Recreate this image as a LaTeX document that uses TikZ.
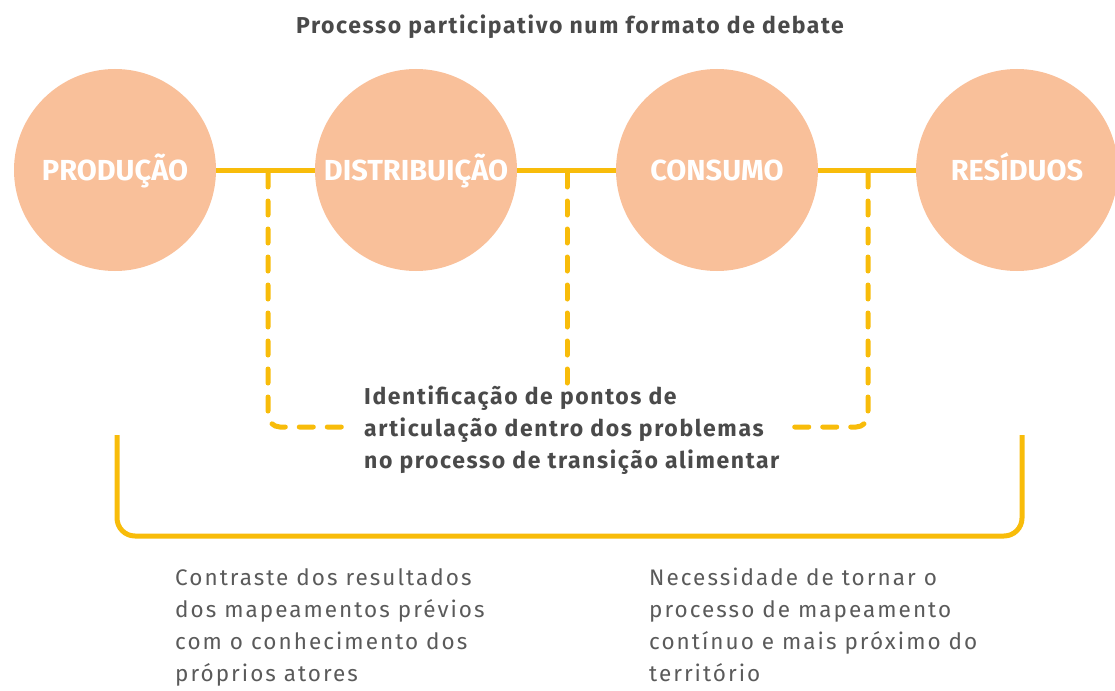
\documentclass[tikz,border=0pt]{standalone}
\usepackage{fontspec}
\setmainfont{Fira Sans}
\usetikzlibrary{positioning}
\definecolor{peach}{HTML}{F9C09A}
\definecolor{gold}{HTML}{F8BC0A}
\definecolor{ink}{HTML}{4A4A4A}
\definecolor{softink}{HTML}{5A5A5A}
\begin{document}
\begin{tikzpicture}[x=1pt,y=-1pt,
    stage/.style={circle, fill=peach, minimum size=202pt, inner sep=0pt,
      text=white, text height=21pt, text depth=0pt,
      font=\fontsize{29}{32}\selectfont\bfseries},
    mainline/.style={gold, line width=5pt},
    dashline/.style={gold, line width=5pt, line cap=round,
      dash pattern=on 14pt off 14pt, rounded corners=12pt},
    bracket/.style={gold, line width=5pt, rounded corners=18pt},
    note/.style={align=left, text=softink, inner sep=0pt,
      font=\fontsize{22.5}{32}\selectfont\addfontfeature{LetterSpace=9}}]
  \useasboundingbox (0,0) rectangle (1115,690);

  % Title
  \node[text=ink, font=\fontsize{23}{26}\selectfont\bfseries\addfontfeature{LetterSpace=7}]
    (title) at (570,27) {Processo participativo num formato de debate};

  % Stages of the food chain
  \node[stage] (prod) at (115,170) {PRODUÇÃO};
  \node[stage] (dist) at (416,170) {DISTRIBUIÇÃO};
  \node[stage] (cons) at (717,170) {CONSUMO};
  \node[stage] (res)  at (1017,170) {RESÍDUOS};

  % Solid links between stages
  \draw[mainline] (prod) -- (dist);
  \draw[mainline] (dist) -- (cons);
  \draw[mainline] (cons) -- (res);

  % Branch points on the links
  \coordinate (b1) at (268,173);
  \coordinate (b2) at (567,173);
  \coordinate (b3) at (868,173);
  \coordinate (e1) at (345,427);
  \coordinate (e2) at (567,383);
  \coordinate (e3) at (792,427);

  % Dashed branches down to the articulation text
  \draw[dashline] (b1) |- (e1);
  \draw[dashline] (b2) -- (e2);
  \draw[dashline] (b3) |- (e3);

  \node[align=left, text=ink, inner sep=0pt, anchor=west,
    font=\fontsize{23}{32}\selectfont\bfseries\addfontfeature{LetterSpace=7}]
    (ident) at (364,430)
    {Identificação de pontos de\\articulação dentro dos problemas\\no processo de transição alimentar};

  % Bracket grouping the outcomes
  \coordinate (k1) at (117,435);
  \coordinate (k2) at (1022,435);
  \draw[bracket] (k1) -- (117,536) -- (1022,536) -- (k2);

  % Outcomes
  \node[note, anchor=north west] (contraste) at (175,568)
    {Contraste dos resultados\\dos mapeamentos prévios\\com o conhecimento dos\\próprios atores};
  \node[note, anchor=north west] (necess) at (649,568)
    {Necessidade de tornar o\\processo de mapeamento\\contínuo e mais próximo do\\território};
\end{tikzpicture}
\end{document}
